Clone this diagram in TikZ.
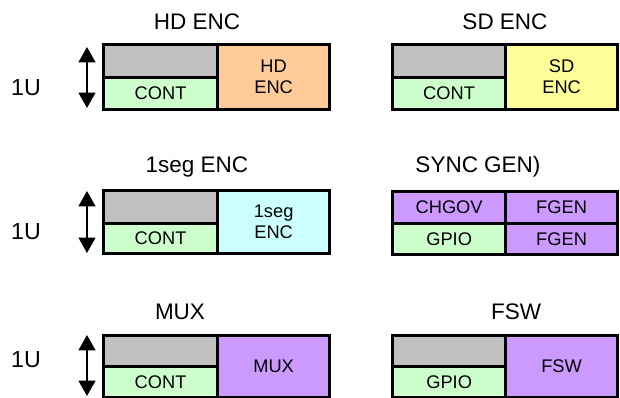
\documentclass[tikz,border=0pt]{standalone}
\usepackage{fontspec}
\setmainfont{Liberation Sans}
\usetikzlibrary{arrows.meta,positioning}
\definecolor{slotgray}{HTML}{C0C0C0}
\definecolor{contgreen}{HTML}{CCFFCC}
\definecolor{encorange}{HTML}{FFCC99}
\definecolor{encyellow}{HTML}{FFFF99}
\definecolor{enccyan}{HTML}{CCFFFF}
\definecolor{modpurple}{HTML}{CC99FF}

\begin{document}
\begin{tikzpicture}[x=0.025cm, y=-0.025cm,
    cell/.style={draw, line width=2.3pt, inner sep=0pt, anchor=north west,
                 align=center, font=\fontsize{13}{15}\selectfont},
    title/.style={font=\fontsize{16}{18}\selectfont},
    unitlbl/.style={font=\fontsize{16.5}{18}\selectfont},
    uarr/.style={{Triangle[width=12pt,length=11pt]}-{Triangle[width=12pt,length=11pt]}, line width=1.5pt}
  ]
  \useasboundingbox (0,0) rectangle (620,397);
  % Rack height markers
  \foreach \n/\top/\bot/\lbl in {a/47/108/88, b/191/253/232, c/335/396/360} {
    \coordinate (\n top) at (87,\top);
    \coordinate (\n bot) at (87,\bot);
    \draw[uarr] (\n top) -- (\n bot);
    \node[unitlbl] (\n u) at (26,\lbl) {1U};
  }
  % HD ENC
  \node[title] (hdt) at (197,22) {HD ENC};
  \node[cell, fill=slotgray, minimum width=2.85cm, minimum height=0.825cm] (hdslot) at (102,43) {};
  \node[cell, fill=contgreen, minimum width=2.85cm, minimum height=0.8cm] (hdcont) at (102,76) {CONT};
  \node[cell, fill=encorange, minimum width=2.8cm, minimum height=1.625cm] (hdenc) at (216,43) {HD\\ENC};
  % SD ENC
  \node[title] (sdt) at (505,22) {SD ENC};
  \node[cell, fill=slotgray, minimum width=2.825cm, minimum height=0.825cm] (sdslot) at (391,43) {};
  \node[cell, fill=contgreen, minimum width=2.825cm, minimum height=0.8cm] (sdcont) at (391,76) {CONT};
  \node[cell, fill=encyellow, minimum width=2.8cm, minimum height=1.625cm] (sdenc) at (504,43) {SD\\ENC};
  % 1seg ENC
  \node[title] (segt) at (197,167) {1seg ENC};
  \node[cell, fill=slotgray, minimum width=2.85cm, minimum height=0.825cm] (segslot) at (102,189) {};
  \node[cell, fill=contgreen, minimum width=2.85cm, minimum height=0.75cm] (segcont) at (102,222) {CONT};
  \node[cell, fill=enccyan, minimum width=2.8cm, minimum height=1.575cm] (segenc) at (216,189) {1seg\\ENC};
  % SYNC GEN
  \node[title] (synct) at (478,167) {SYNC GEN)};
  \node[cell, fill=modpurple, minimum width=2.825cm, minimum height=0.8cm] (chgov) at (391,190) {CHGOV};
  \node[cell, fill=contgreen, minimum width=2.825cm, minimum height=0.775cm] (syncgpio) at (391,222) {GPIO};
  \node[cell, fill=modpurple, minimum width=2.8cm, minimum height=0.8cm] (fgena) at (504,190) {FGEN};
  \node[cell, fill=modpurple, minimum width=2.8cm, minimum height=0.775cm] (fgenb) at (504,222) {FGEN};
  % MUX
  \node[title] (muxt) at (180,312) {MUX};
  \node[cell, fill=slotgray, minimum width=2.85cm, minimum height=0.775cm] (muxslot) at (102,334) {};
  \node[cell, fill=contgreen, minimum width=2.85cm, minimum height=0.775cm] (muxcont) at (102,365) {CONT};
  \node[cell, fill=modpurple, minimum width=2.8cm, minimum height=1.55cm] (mux) at (216,334) {MUX};
  % FSW
  \node[title] (fswt) at (516,312) {FSW};
  \node[cell, fill=slotgray, minimum width=2.825cm, minimum height=0.775cm] (fswslot) at (391,334) {};
  \node[cell, fill=contgreen, minimum width=2.825cm, minimum height=0.775cm] (fswgpio) at (391,365) {GPIO};
  \node[cell, fill=modpurple, minimum width=2.8cm, minimum height=1.55cm] (fsw) at (504,334) {FSW};
\end{tikzpicture}
\end{document}
